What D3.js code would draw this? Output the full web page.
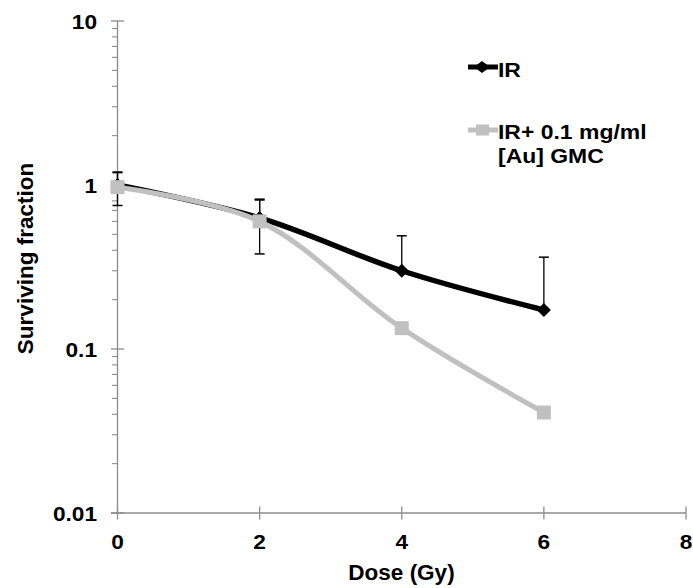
<!DOCTYPE html>
<html>
<head>
<meta charset="utf-8">
<script src="https://cdn.jsdelivr.net/npm/d3@7/dist/d3.min.js"></script>
<style>
  html, body { margin: 0; padding: 0; background: #fff; }
  svg { display: block; }
  text { font-family: "Liberation Sans", Arial, sans-serif; font-weight: bold; fill: #000; }
</style>
</head>
<body>
<svg id="chart" width="693" height="588"></svg>
<script>
// Dose points (Gy)
const doses = [0, 2, 4, 6];
// Surviving fraction, irradiation only (upper error bars)
const irValues = [1.0, 0.63, 0.30, 0.173];
const irErrPlus = [0.2, 0.18, 0.19, 0.19];
// Surviving fraction, irradiation + 0.1 mg/ml [Au] GMC (symmetric error bars)
const gmcValues = [0.97, 0.60, 0.134, 0.041];
const gmcErr = [0.22, 0.22, 0, 0];

const xTicks = [0, 2, 4, 6, 8];
const yTicks = [0.01, 0.1, 1, 10];
const yTickLabels = ["0.01", "0.1", "1", "10"];
const seriesNames = ["IR", "IR+ 0.1 mg/ml", "[Au] GMC"];

const svg = d3.select("#chart");
const x = d3.scaleLinear().domain([0, 8]).range([117.5, 686]);
const y = d3.scaleLog().domain([0.01, 10]).range([513, 21]);

const axisColor = "#8c8c8c";
const black = "#000";
const gray = "#c0c0c0";

// y axis with log minor ticks
const yAxisG = svg.append("g");
yAxisG.append("line")
  .attr("x1", x(0)).attr("x2", x(0))
  .attr("y1", y(10)).attr("y2", y(0.01))
  .attr("stroke", axisColor).attr("stroke-width", 1.3);
const minor = [];
[0.01, 0.1, 1].forEach(d => { for (let k = 2; k <= 9; k++) minor.push(d * k); });
yAxisG.selectAll(".minor").data(minor).enter().append("line")
  .attr("x1", x(0) - 5.5).attr("x2", x(0))
  .attr("y1", d => y(d)).attr("y2", d => y(d))
  .attr("stroke", axisColor).attr("stroke-width", 1.1);
yAxisG.selectAll(".major").data(yTicks).enter().append("line")
  .attr("x1", x(0) - 6.5).attr("x2", x(0) + 6.5)
  .attr("y1", d => y(d)).attr("y2", d => y(d))
  .attr("stroke", axisColor).attr("stroke-width", 1.3);
yAxisG.selectAll(".lbl").data(yTicks).enter().append("text")
  .attr("transform", d => `translate(97,${y(d)}) scale(1.08,1)`)
  .attr("dy", "0.36em")
  .attr("text-anchor", "end")
  .attr("font-size", 21)
  .text((d, i) => yTickLabels[i]);

// x axis
const xAxisG = svg.append("g");
xAxisG.append("line")
  .attr("x1", x(0) - 6.5).attr("x2", x(8))
  .attr("y1", y(0.01)).attr("y2", y(0.01))
  .attr("stroke", axisColor).attr("stroke-width", 1.3);
xAxisG.selectAll(".xt").data(xTicks).enter().append("line")
  .attr("x1", d => x(d)).attr("x2", d => x(d))
  .attr("y1", y(0.01) - 6.5).attr("y2", y(0.01) + 6.5)
  .attr("stroke", axisColor).attr("stroke-width", 1.3);
xAxisG.selectAll(".xl").data(xTicks).enter().append("text")
  .attr("transform", d => `translate(${x(d)},549) scale(1.08,1)`)
  .attr("text-anchor", "middle")
  .attr("font-size", 21)
  .text(d => d);

// axis titles
svg.append("text")
  .attr("x", 401.5).attr("y", 580)
  .attr("text-anchor", "middle").attr("font-size", 22.5)
  .text("Dose (Gy)");
svg.append("text")
  .attr("transform", `translate(32.5, 258.5) rotate(-90)`)
  .attr("text-anchor", "middle").attr("font-size", 22.5)
  .text("Surviving fraction");

const line = d3.line().x(d => x(d[0])).y(d => y(d[1])).curve(d3.curveCatmullRom.alpha(0.5));
const irData = doses.map((d, i) => [d, irValues[i]]);
const gmcData = doses.map((d, i) => [d, gmcValues[i]]);

// error bars
const capW = 5;
const errG = svg.append("g").attr("stroke", black);
function cap(xv, v) {
  errG.append("line").attr("x1", x(xv) - capW).attr("x2", x(xv) + capW)
    .attr("y1", y(v)).attr("y2", y(v)).attr("stroke-width", 1.5);
}
doses.forEach((d, i) => {
  if (gmcErr[i] > 0) {
    const lo = gmcValues[i] - gmcErr[i], hi = gmcValues[i] + gmcErr[i];
    errG.append("line").attr("x1", x(d)).attr("x2", x(d)).attr("y1", y(lo)).attr("y2", y(hi))
      .attr("stroke-width", 1.3);
    cap(d, lo); cap(d, hi);
  }
  const hiIr = irValues[i] + irErrPlus[i];
  errG.append("line").attr("x1", x(d)).attr("x2", x(d)).attr("y1", y(irValues[i])).attr("y2", y(hiIr))
    .attr("stroke-width", 1.3);
  cap(d, hiIr);
});

// series lines
svg.append("path").datum(irData).attr("d", line)
  .attr("fill", "none").attr("stroke", black).attr("stroke-width", 5.5);
svg.append("path").datum(gmcData).attr("d", line)
  .attr("fill", "none").attr("stroke", gray).attr("stroke-width", 5);

// markers
const diamondPath = (hw, hh) => `M0,${-hh}L${hw},0L0,${hh}L${-hw},0Z`;
svg.selectAll(".ir").data(irData).enter().append("path")
  .attr("d", diamondPath(7, 7))
  .attr("transform", d => `translate(${x(d[0])},${y(d[1])})`)
  .attr("fill", black);
const sq = 14;
svg.selectAll(".gmc").data(gmcData).enter().append("rect")
  .attr("x", d => x(d[0]) - sq / 2).attr("y", d => y(d[1]) - sq / 2)
  .attr("width", sq).attr("height", sq).attr("fill", gray);

// legend
const lg = svg.append("g");
lg.append("line").attr("x1", 468).attr("x2", 498).attr("y1", 67).attr("y2", 67)
  .attr("stroke", black).attr("stroke-width", 5);
lg.append("path").attr("d", diamondPath(8, 6)).attr("transform", "translate(482,67)").attr("fill", black);
lg.append("text").attr("transform", "translate(498,77) scale(1.12,1)").attr("font-size", 20.5).text(seriesNames[0]);
lg.append("line").attr("x1", 468).attr("x2", 498).attr("y1", 130).attr("y2", 130)
  .attr("stroke", gray).attr("stroke-width", 5);
lg.append("rect").attr("x", 476).attr("y", 124.5).attr("width", 13).attr("height", 11).attr("fill", gray);
lg.append("text").attr("transform", "translate(498,139) scale(1.12,1)").attr("font-size", 20.5).text(seriesNames[1]);
lg.append("text").attr("transform", "translate(498,163) scale(1.12,1)").attr("font-size", 20.5).text(seriesNames[2]);
</script>
</body>
</html>
